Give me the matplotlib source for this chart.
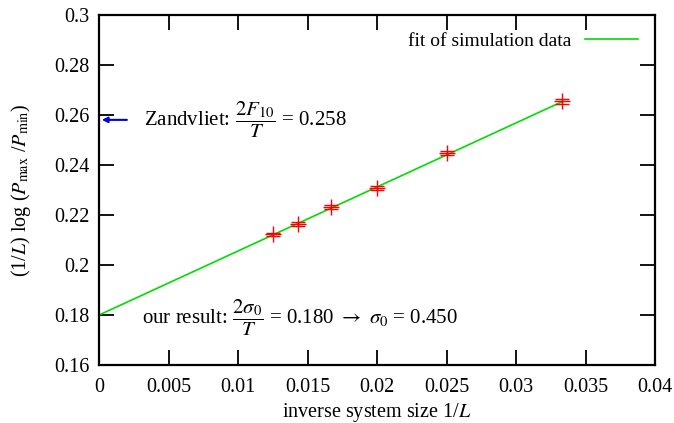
import numpy as np
import matplotlib
matplotlib.use("Agg")
import matplotlib.pyplot as plt
from matplotlib.ticker import FuncFormatter

# simulation data: inverse system size and (1/L) log(Pmax/Pmin)
system_sizes = [80, 70, 60, 50, 40, 30]
inv_L = [1.0 / L for L in system_sizes]
log_ratio = [0.2123, 0.2164, 0.2233, 0.2306, 0.2447, 0.2654]
log_ratio_err = [0.0006, 0.0007, 0.0008, 0.0008, 0.0009, 0.0009]

# linear fit of the simulation data
fit_intercept = 0.180
fit_slope = 2.56
fit_x = [0.0, 1.0 / 30]

zandvliet_value = 0.258

plt.rcParams["font.family"] = ["Liberation Serif", "DejaVu Serif"]
plt.rcParams["mathtext.fontset"] = "stix"
plt.rcParams["font.size"] = 14

fig = plt.figure(figsize=(6.74, 4.23), dpi=100)
ax = fig.add_axes([0.147, 0.137, 0.825, 0.828])

fit_y = [fit_intercept + fit_slope * x for x in fit_x]
ax.plot(fit_x, fit_y, color="#00dd00", lw=1.2, label="fit of simulation data")

ax.errorbar(inv_L, log_ratio, yerr=log_ratio_err, fmt="+", color="red",
            ms=11, mew=1.0, elinewidth=1.0, capsize=5, capthick=1.6, zorder=3)

ax.annotate("", xy=(0.0002, zandvliet_value), xytext=(0.002, zandvliet_value),
            arrowprops=dict(arrowstyle="-|>", color="#0000dd", lw=1.5,
                            mutation_scale=8, shrinkA=0, shrinkB=0))

ax.text(0.0032, zandvliet_value, r"Zandvliet: $\dfrac{2F_{10}}{T}$ = 0.258",
        va="center", ha="left", fontsize=15)
ax.text(0.0031, 0.1788,
        r"our result: $\dfrac{2\sigma_0}{T}$ = 0.180 $\rightarrow$ $\sigma_0$ = 0.450",
        va="center", ha="left", fontsize=15)

ax.set_xlim(0, 0.04)
ax.set_ylim(0.16, 0.3)
ax.set_xticks(np.arange(0, 0.0401, 0.005))
ax.set_yticks(np.arange(0.16, 0.3001, 0.02))
ax.xaxis.set_major_formatter(FuncFormatter(lambda v, p: "%g" % round(v, 4)))
ax.yaxis.set_major_formatter(FuncFormatter(lambda v, p: "%g" % round(v, 3)))
ax.tick_params(direction="in", length=11, width=1.3, top=True, right=True,
               labelsize=14.5)
ax.tick_params(axis="x", pad=9)
ax.tick_params(axis="y", pad=7)
for s in ax.spines.values():
    s.set_linewidth(1.6)

ax.set_xlabel(r"inverse system size 1/$L$", fontsize=14.5, labelpad=3)
ax.set_ylabel(r"(1/$L$) log ($P_\mathrm{max}$ /$P_\mathrm{min}$)", fontsize=14.5, labelpad=15)

ax.legend(loc="upper right", frameon=False, markerfirst=False, fontsize=14,
          handlelength=2.7, handletextpad=0.7, borderaxespad=0.5)

fig.savefig("out.png", dpi=100)
